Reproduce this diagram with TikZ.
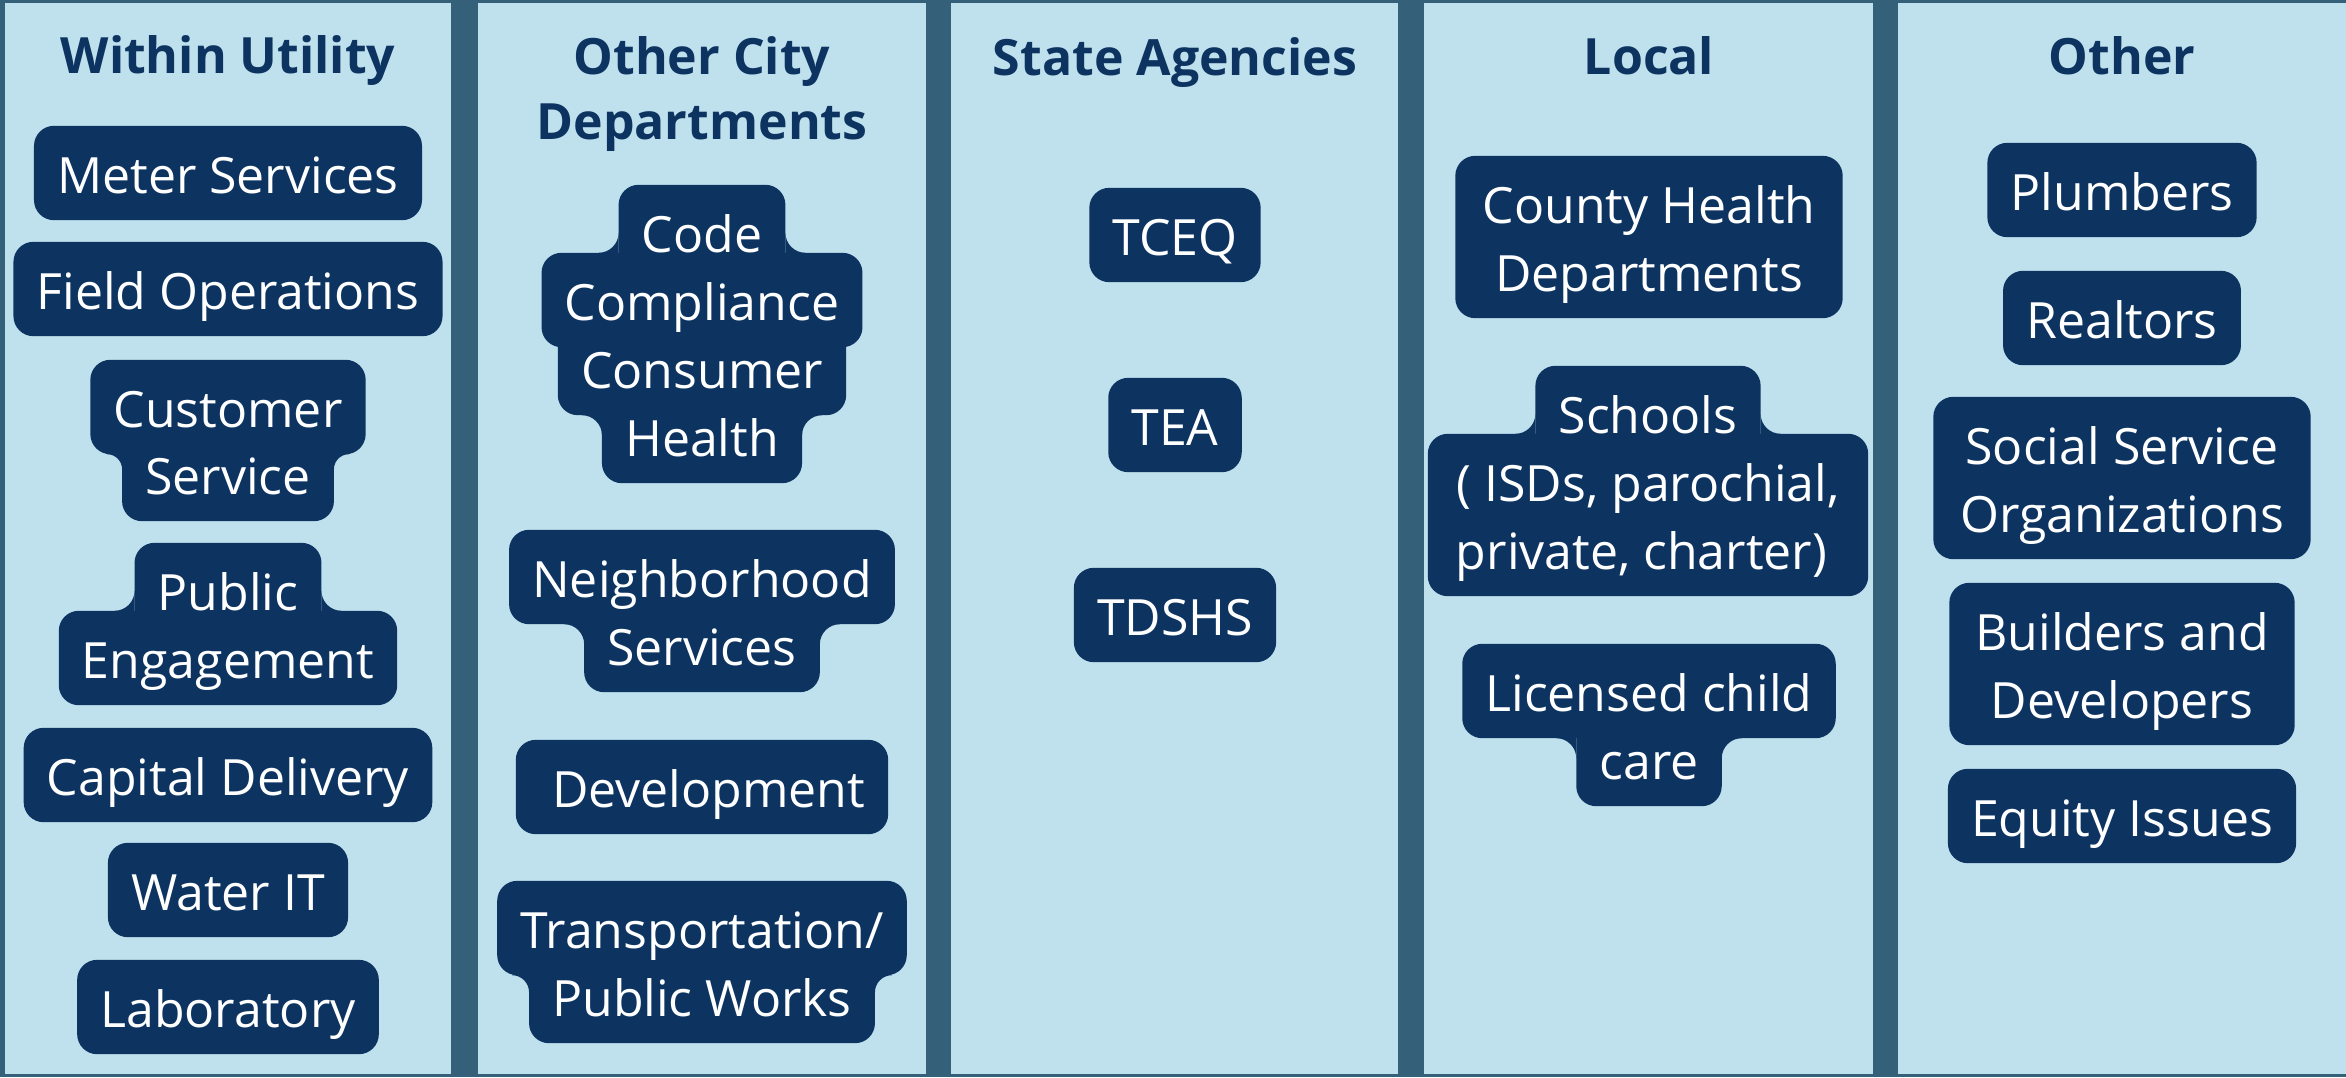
\documentclass[tikz,border=0pt]{standalone}
\usepackage{fontspec}
\setmainfont{Open Sans}
\usetikzlibrary{calc}
\definecolor{navy}{HTML}{0D3461}
\definecolor{panel}{HTML}{BFE1EE}
\definecolor{water}{HTML}{34607A}
\pgfdeclarelayer{back}
\pgfdeclarelayer{bg}
\pgfsetlayers{back,bg,main}
\tikzset{
  ln/.style={text=white, inner xsep=23pt, inner ysep=0pt, text height=67pt, text depth=27pt,
             anchor=base, font=\fontsize{50}{60}\selectfont},
  hd/.style={text=navy, inner sep=0pt, anchor=base, font=\fontsize{50}{60}\selectfont\bfseries},
  boxfill/.style={fill=navy, rounded corners=20pt}
}
% fill behind a line node
\newcommand\hlbox[1]{\fill[boxfill] (#1.south west) rectangle (#1.north east);}
% one fill behind a stack of equal-width line nodes, from #1 (top) to #2 (bottom)
\newcommand\hlstack[2]{\fill[boxfill] (#2.south west) rectangle (#1.north east);}
% concave fillets: narrow node #1 above wide node #2, radius #3
\newcommand\filA[3]{%
  \path (#1.west |- #2.north) coordinate (fa) (#1.east |- #2.north) coordinate (fb);
  \fill[navy] (fa) -- ($(fa)+(-#3,0)$) .. controls ($(fa)+(-0.45*#3,0)$) and ($(fa)+(0,-0.45*#3)$) .. ($(fa)+(0,-#3)$) -- cycle;
  \fill[navy] (fb) -- ($(fb)+(#3,0)$) .. controls ($(fb)+(0.45*#3,0)$) and ($(fb)+(0,-0.45*#3)$) .. ($(fb)+(0,-#3)$) -- cycle;}
% concave fillets: wide node #1 above narrow node #2, radius #3
\newcommand\filB[3]{%
  \path (#2.west |- #1.south) coordinate (fa) (#2.east |- #1.south) coordinate (fb);
  \fill[navy] (fa) -- ($(fa)+(-#3,0)$) .. controls ($(fa)+(-0.45*#3,0)$) and ($(fa)+(0,0.45*#3)$) .. ($(fa)+(0,#3)$) -- cycle;
  \fill[navy] (fb) -- ($(fb)+(#3,0)$) .. controls ($(fb)+(0.45*#3,0)$) and ($(fb)+(0,0.45*#3)$) .. ($(fb)+(0,#3)$) -- cycle;}
\begin{document}
\begin{tikzpicture}[x=1pt,y=-1pt]
\useasboundingbox (0,0) rectangle (2346,1077);
\begin{pgfonlayer}{back}
  \fill[water] (0,0) rectangle (2346,1077);
  \foreach \a/\b in {5/451,478/926,951/1398,1424/1873,1898/2346}
    \fill[panel] (\a,3) rectangle (\b,1074);
\end{pgfonlayer}

% headers
\node[hd] (h1) at (228,73) {Within Utility};
\node[hd] (h2a) at (702,74) {Other City};
\node[hd] (h2b) at (702,139) {Departments};
\node[hd] (h3) at (1175,75) {State Agencies};
\node[hd] (h4) at (1649,74) {Local};
\node[hd] (h5) at (2122,74) {Other};

% column 1
\node[ln] (ms) at (228,193) {Meter Services};
\node[ln] (fo) at (228,309) {Field Operations};
\node[ln] (cs1) at (228,427) {Customer};
\node[ln] (cs2) at (228,494) {Service};
\node[ln] (pe1) at (228,610) {Public};
\node[ln] (pe2) at (228,678) {Engagement};
\node[ln] (cd) at (228,795) {Capital Delivery};
\node[ln] (wit) at (228,910) {Water IT};
\node[ln] (lab) at (228,1027) {Laboratory};

% column 2
\node[ln] (cc1) at (702,252) {Code};
\node[ln] (cc2) at (702,320) {Compliance};
\node[ln] (cc3) at (702,388) {Consumer};
\node[ln] (cc4) at (702,456) {Health};
\node[ln] (ns1) at (702,597) {Neighborhood};
\node[ln] (ns2) at (702,665) {Services};
\node[ln] (dev) at (702,807) {\kern13pt Development};
\node[ln] (tp1) at (702,948) {Transportation/};
\node[ln] (tp2) at (702,1016) {Public Works};

% column 3
\node[ln] (tceq) at (1175,255) {TCEQ};
\node[ln] (tea) at (1175,445) {TEA};
\node[ln] (tdshs) at (1175,635) {TDSHS};

% column 4
\node[ln, minimum width=387pt] (ch1) at (1649,223) {County Health};
\node[ln, minimum width=387pt] (ch2) at (1649,291) {Departments};
\node[ln] (sc1) at (1648,433) {Schools};
\node[ln, minimum width=440pt] (sc2) at (1648,501) {( ISDs, parochial,};
\node[ln, minimum width=440pt] (sc3) at (1648,569) {private, charter)\kern13pt};
\node[ln] (lc1) at (1649,711) {Licensed child};
\node[ln] (lc2) at (1649,779) {care};

% column 5
\node[ln] (pl) at (2122,210) {Plumbers};
\node[ln] (re) at (2122,338) {Realtors};
\node[ln, minimum width=377pt] (so1) at (2122,464) {Social Service};
\node[ln, minimum width=377pt] (so2) at (2122,532) {Organizations};
\node[ln, minimum width=345pt] (bd1) at (2122,650) {Builders and};
\node[ln, minimum width=345pt] (bd2) at (2122,718) {Developers};
\node[ln] (eq) at (2122,836) {Equity Issues};

\begin{pgfonlayer}{bg}
  \foreach \n in {ms,fo,cs1,cs2,pe1,pe2,cd,wit,lab,
                  cc1,cc2,cc3,cc4,ns1,ns2,dev,tp1,tp2,
                  tceq,tea,tdshs,
                  sc1,lc1,lc2,
                  pl,re,eq}
    {\hlbox{\n}}
  \hlstack{ch1}{ch2}
  \hlstack{sc2}{sc3}
  \hlstack{so1}{so2}
  \hlstack{bd1}{bd2}
  \filB{cs1}{cs2}{15}
  \filA{pe1}{pe2}{20}
  \filA{cc1}{cc2}{20}
  \filB{cc3}{cc4}{20}
  \filB{ns1}{ns2}{20}
  \filB{tp1}{tp2}{17}
  \filA{sc1}{sc2}{20}
  \filB{lc1}{lc2}{20}
\end{pgfonlayer}
\end{tikzpicture}
\end{document}
